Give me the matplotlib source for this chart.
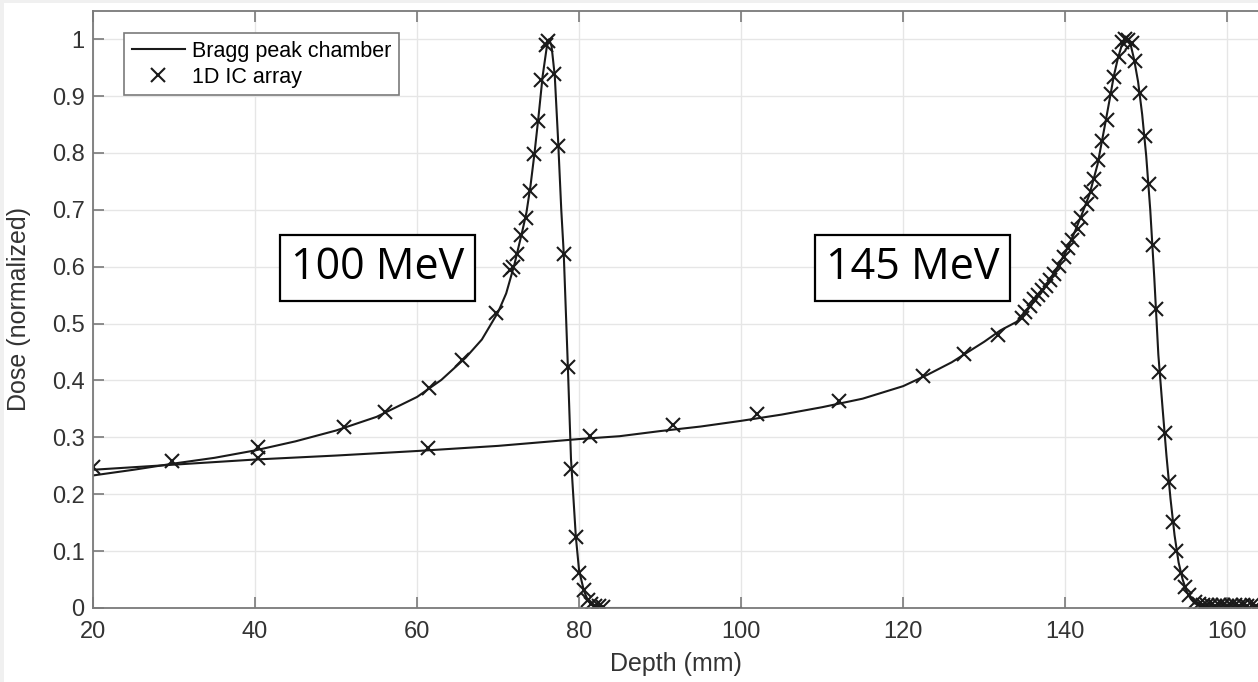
import numpy as np
import matplotlib
matplotlib.use('Agg')
import matplotlib.pyplot as plt
from matplotlib.patches import Rectangle

plt.rcParams['font.family'] = ['Liberation Sans', 'DejaVu Sans']

# Bragg peak chamber, 100 MeV (depth mm, normalized dose)
depth_100 = [20, 25, 30, 35, 40, 45, 50, 55, 60, 63, 66, 68, 70, 71, 72, 72.5, 73,
             73.5, 74, 74.5, 75, 75.5, 76, 76.3, 76.6, 77, 77.4, 77.8, 78.1, 78.6,
             79.0, 79.6, 80.0, 80.6, 81.1, 82.0, 83.0, 100]
dose_100 = [0.233, 0.243, 0.254, 0.264, 0.277, 0.293, 0.312, 0.336, 0.371, 0.401,
            0.440, 0.472, 0.520, 0.553, 0.603, 0.633, 0.663, 0.695, 0.742, 0.800,
            0.865, 0.935, 0.985, 1.0, 0.988, 0.935, 0.825, 0.700, 0.625, 0.430,
            0.262, 0.125, 0.066, 0.030, 0.013, 0.003, 0.0, 0.0]

# Bragg peak chamber, 145 MeV
depth_145 = [20, 30, 40, 50, 60, 70, 80, 85, 90, 95, 100, 105, 110, 115, 120, 123,
             126, 128, 130, 132, 134, 135, 136, 137, 138, 139, 140, 141, 142, 143,
             144, 144.5, 145, 145.5, 146, 146.5, 147, 147.5, 148, 148.5, 149, 149.5,
             150, 150.5, 151, 151.5, 152, 152.5, 153, 153.5, 154, 154.5, 155, 155.5,
             156, 157, 158, 163.8]
dose_145 = [0.243, 0.252, 0.261, 0.268, 0.276, 0.285, 0.297, 0.302, 0.311, 0.319,
            0.329, 0.340, 0.353, 0.368, 0.390, 0.410, 0.432, 0.450, 0.468, 0.488,
            0.503, 0.518, 0.536, 0.553, 0.575, 0.598, 0.624, 0.655, 0.690, 0.727,
            0.780, 0.818, 0.856, 0.895, 0.935, 0.966, 0.990, 1.0, 0.995, 0.965,
            0.925, 0.868, 0.795, 0.700, 0.580, 0.445, 0.355, 0.268, 0.192, 0.128,
            0.080, 0.050, 0.029, 0.016, 0.008, 0.003, 0.0, 0.0]

# 1D IC array measurements
ic_depth_100 = [29.75, 40.4, 51.0, 56.0, 61.5, 65.6, 69.8, 71.5, 71.8, 72.3, 72.8,
                73.4, 73.9, 74.4, 74.9, 75.3, 75.9, 76.2, 76.9, 77.4, 78.1, 78.6,
                79.0, 79.6, 80.0, 80.6, 81.1, 81.5, 82.0, 82.5, 83.0]
ic_dose_100 = [0.258, 0.283, 0.318, 0.344, 0.387, 0.436, 0.518, 0.595, 0.599, 0.622,
               0.656, 0.685, 0.733, 0.798, 0.856, 0.929, 0.990, 0.997, 0.938, 0.813,
               0.623, 0.423, 0.245, 0.125, 0.061, 0.032, 0.014, 0.007, 0.004, 0.003,
               0.002]

ic_depth_145 = [20.0, 40.4, 61.4, 81.4, 91.6, 101.9, 112.1, 122.5, 127.5, 131.7,
                134.7, 135.1, 135.6, 136.1, 136.7, 137.2, 137.6, 138.1, 138.6, 139.2,
                139.8, 140.4, 140.9, 141.6, 142.0, 142.7, 143.2, 143.6, 144.1, 144.5,
                145.1, 145.6, 146.0, 146.6, 147.0, 147.4, 147.7, 148.2, 148.6, 149.2,
                149.8, 150.3, 150.8, 151.2, 151.6, 152.3, 152.8, 153.3, 153.7, 154.3,
                154.8, 155.3, 156.0, 156.5, 157.0, 157.5, 158.0, 158.5, 159.0, 159.5,
                160.0, 160.5, 161.0, 161.5, 162.0, 162.5, 163.0, 163.5]
ic_dose_145 = [0.247, 0.264, 0.281, 0.303, 0.322, 0.341, 0.364, 0.408, 0.446, 0.480,
               0.509, 0.521, 0.531, 0.543, 0.550, 0.559, 0.566, 0.577, 0.588, 0.601,
               0.617, 0.632, 0.647, 0.667, 0.685, 0.710, 0.732, 0.755, 0.787, 0.821,
               0.858, 0.903, 0.934, 0.968, 0.995, 1.0, 0.999, 0.994, 0.962, 0.906,
               0.830, 0.745, 0.638, 0.525, 0.414, 0.307, 0.222, 0.152, 0.101, 0.061,
               0.037, 0.023, 0.011, 0.007, 0.006, 0.005, 0.006, 0.004, 0.005, 0.006,
               0.004, 0.005, 0.005, 0.004, 0.005, 0.004, 0.005, 0.004]

x_ticks = np.arange(20, 161, 20)
y_ticks = np.round(np.arange(0, 1.01, 0.1), 1)
y_labels = ['0', '0.1', '0.2', '0.3', '0.4', '0.5', '0.6', '0.7', '0.8', '0.9', '1']

fig = plt.figure(figsize=(12.58, 6.82), dpi=100, facecolor='#f0f0f0')
fig.patches.append(Rectangle((4 / 1258, 0), 1, (682 - 3) / 682, transform=fig.transFigure,
                             facecolor='white', edgecolor='none', zorder=-10))
ax = fig.add_axes([93 / 1258, 74 / 682, 1 - 93 / 1258, (608 - 10.7) / 682])

ln_col = '#1a1a1a'
ax.plot(depth_100, dose_100, color=ln_col, lw=1.5, label='Bragg peak chamber')
ax.plot(depth_145, dose_145, color=ln_col, lw=1.5)
ax.plot(ic_depth_100, ic_dose_100, ls='none', marker='x', ms=10, mew=1.5,
        color=ln_col, label='1D IC array')
ax.plot(ic_depth_145, ic_dose_145, ls='none', marker='x', ms=10, mew=1.5, color=ln_col)

ax.set_xlim(20, 163.8)
ax.set_ylim(0, 1.05)
ax.set_xticks(x_ticks)
ax.set_yticks(y_ticks)
ax.set_yticklabels(y_labels)
ax.grid(True, color='#e6e6e6', lw=1.0)
ax.set_axisbelow(True)

spine_col = '#7a7a7a'
txt_col = '#333333'
for s in ['left', 'bottom', 'top']:
    ax.spines[s].set_color(spine_col)
    ax.spines[s].set_linewidth(1.3)
ax.spines['right'].set_visible(False)
ax.tick_params(direction='in', length=8, width=1.2, color=spine_col,
               labelsize=17, labelcolor=txt_col, top=True, pad=6)
ax.tick_params(axis='x', pad=9)

ax.set_xlabel('Depth (mm)', fontsize=18, color=txt_col)
ax.set_ylabel('Dose (normalized)', fontsize=18, color=txt_col)
ax.xaxis.set_label_coords(0.5, -0.074)
ax.yaxis.set_label_coords(-0.053, 0.5)

leg = ax.legend(loc='upper left', bbox_to_anchor=(0.0266, 0.9627), borderaxespad=0,
                fontsize=15.5, fancybox=False, edgecolor='#7a7a7a', framealpha=1,
                handlelength=2.5, handletextpad=0.3, borderpad=0.35, labelspacing=0.25)
leg.get_frame().set_linewidth(1.2)

box = dict(boxstyle='square,pad=0.25', facecolor='white', edgecolor='black', lw=1.6)
ax.text(55.1, 0.598, '100 MeV', ha='center', va='center', fontsize=31,
        family='Open Sans', bbox=box)
ax.text(121.2, 0.598, '145 MeV', ha='center', va='center', fontsize=31,
        family='Open Sans', bbox=box)

fig.savefig('out.png', dpi=100, facecolor=fig.get_facecolor())
